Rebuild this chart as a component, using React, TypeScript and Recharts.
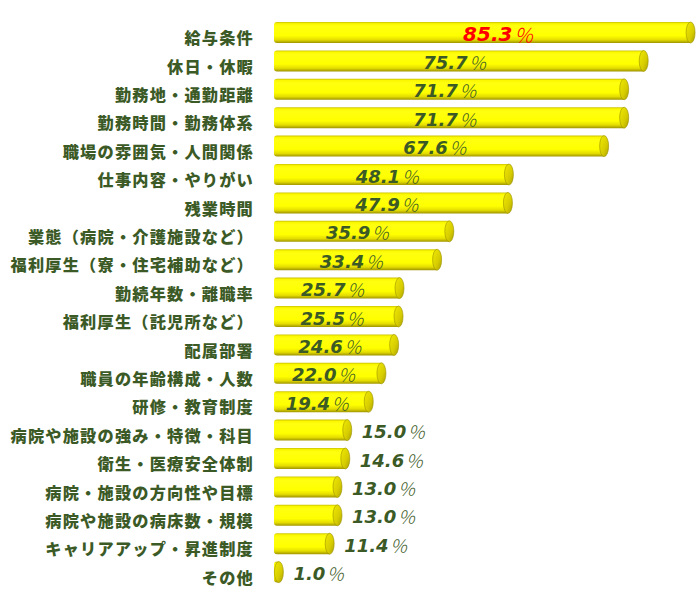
import { BarChart, Bar, XAxis, YAxis, LabelList } from "recharts"

const categories = [
  "給与条件",
  "休日・休暇",
  "勤務地・通勤距離",
  "勤務時間・勤務体系",
  "職場の雰囲気・人間関係",
  "仕事内容・やりがい",
  "残業時間",
  "業態（病院・介護施設など）",
  "福利厚生（寮・住宅補助など）",
  "勤続年数・離職率",
  "福利厚生（託児所など）",
  "配属部署",
  "職員の年齢構成・人数",
  "研修・教育制度",
  "病院や施設の強み・特徴・科目",
  "衛生・医療安全体制",
  "病院・施設の方向性や目標",
  "病院や施設の病床数・規模",
  "キャリアアップ・昇進制度",
  "その他",
]

const values = [
  85.3, 75.7, 71.7, 71.7, 67.6, 48.1, 47.9, 35.9, 33.4, 25.7,
  25.5, 24.6, 22.0, 19.4, 15.0, 14.6, 13.0, 13.0, 11.4, 1.0,
]

const data = categories.map((name, i) => ({ name, value: values[i] }))

const TEXT = "#3b5a26"
const CAP_RX = 4.5

// yellow cylinder: rounded left end, elliptical cap on the right
const Cylinder = (props: any) => {
  const { x, y, width, height } = props
  const r = 3
  const right = x + width
  const body = `M${x + r},${y} L${right},${y} L${right},${y + height} L${x + r},${y + height} Q${x},${y + height} ${x},${y + height - r} L${x},${y + r} Q${x},${y} ${x + r},${y} Z`
  return (
    <g>
      <path d={body} fill="url(#bodyGrad)" />
      <ellipse
        cx={right}
        cy={y + height / 2}
        rx={CAP_RX}
        ry={height / 2}
        fill="url(#capGrad)"
        stroke="#9a9000"
        strokeWidth={0.6}
      />
    </g>
  )
}

const ValueLabel = (props: any) => {
  const { x, y, width, height, value, index } = props
  const inside = value > 17
  const first = index === 0
  let tx = inside ? x + width / 2 - 4 : x + width + CAP_RX + 10
  if (first) tx += 20
  return (
    <text
      x={tx}
      y={y + height / 2 + 1}
      textAnchor={inside ? "middle" : "start"}
      dominantBaseline="central"
      fill={first ? "#ff0000" : TEXT}
    >
      <tspan fontFamily="DejaVu Sans" fontWeight="bold" fontStyle="italic" fontSize={first ? 20 : 18}>
        {value.toFixed(1)}
      </tspan>
      <tspan fontFamily="Noto Sans CJK JP" fontWeight={300} fontStyle="italic" fontSize={first ? 20 : 18} dx={1}>
        ％
      </tspan>
    </text>
  )
}

const CategoryTick = (props: any) => {
  const { x, y, payload } = props
  return (
    <text
      x={x - 18}
      y={y + 5}
      textAnchor="end"
      dominantBaseline="central"
      fill={TEXT}
      fontFamily="Noto Sans CJK JP"
      fontWeight={900}
      fontSize={16.2}
      letterSpacing={1.2}
    >
      {payload.value}
    </text>
  )
}

export default function App() {
  return (
    <div style={{ position: "absolute", left: 0, top: 0, background: "#fff" }}>
      <BarChart
        width={700}
        height={600}
        data={data}
        layout="vertical"
        margin={{ top: 18, right: 6, bottom: 14, left: 0 }}
      >
        <defs>
          <linearGradient id="bodyGrad" x1="0" y1="0" x2="0" y2="1">
            <stop offset="0%" stopColor="#c9c200" />
            <stop offset="8%" stopColor="#fbf700" />
            <stop offset="20%" stopColor="#ffff10" />
            <stop offset="65%" stopColor="#ffff00" />
            <stop offset="85%" stopColor="#e4dc00" />
            <stop offset="100%" stopColor="#9e9400" />
          </linearGradient>
          <linearGradient id="capGrad" x1="0" y1="0" x2="1" y2="1">
            <stop offset="0%" stopColor="#f0ea00" />
            <stop offset="60%" stopColor="#d6cc00" />
            <stop offset="100%" stopColor="#a89e00" />
          </linearGradient>
        </defs>
        <XAxis type="number" domain={[0, 86]} hide />
        <YAxis
          type="category"
          dataKey="name"
          width={274}
          axisLine={false}
          tickLine={false}
          tickSize={0}
          interval={0}
          tick={<CategoryTick />}
        />
        <Bar dataKey="value" barSize={21} shape={<Cylinder />} isAnimationActive={false}>
          <LabelList dataKey="value" content={<ValueLabel />} />
        </Bar>
      </BarChart>
    </div>
  )
}
